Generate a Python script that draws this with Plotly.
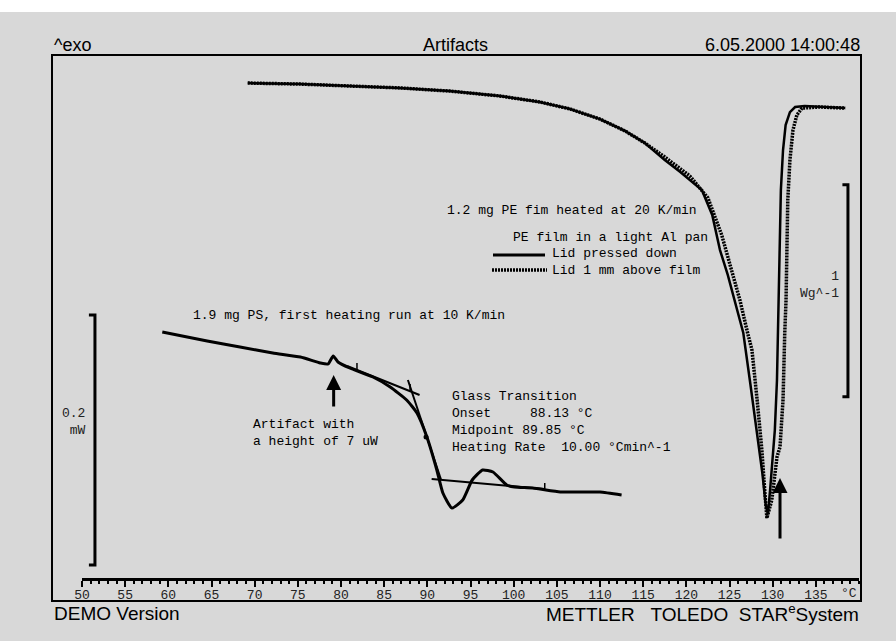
import plotly.graph_objects as go

# ---------------- data ----------------
# PE film, lid pressed down (solid) : temperature (°C), heat flow (W/g, arbitrary offset)
pe_T_solid = [69.2, 75.3, 81.0, 86.8, 92.6, 98.4, 103.0, 106.5, 110.0, 112.9,
              115.2, 117.5, 119.3, 121.8, 123.0, 123.9, 124.8, 125.6, 126.6, 127.4,
              128.2, 128.8, 129.2, 129.45, 129.7, 130.0, 130.25, 130.5, 130.6, 130.7,
              130.85, 130.95, 131.2, 131.5, 132.0, 132.6, 133.7, 135.5, 138.4]
pe_hf_solid = [0.080, 0.075, 0.066, 0.057, 0.042, 0.019, -0.009, -0.042, -0.090, -0.146,
               -0.203, -0.283, -0.340, -0.425, -0.542, -0.708, -0.825, -0.943, -1.099, -1.335,
               -1.571, -1.759, -1.910, -1.953, -1.840, -1.698, -1.557, -1.321, -1.085, -0.896,
               -0.660, -0.425, -0.236, -0.118, -0.057, -0.033, -0.028, -0.033, -0.038]

# PE film, lid 1 mm above film (dotted)
pe_T_dot = [69.2, 75.3, 81.0, 86.8, 92.6, 98.4, 103.0, 106.5, 110.0, 112.9, 115.2,
            117.5, 120.4, 122.5, 124.1, 125.4, 126.2, 127.1, 127.6, 128.2, 128.75,
            129.1, 129.33, 129.9, 130.5, 130.85, 131.2, 131.4, 131.55, 131.65, 131.75,
            132.0, 132.35, 132.8, 133.4, 135.5, 138.4]
pe_hf_dot = [0.080, 0.075, 0.066, 0.057, 0.042, 0.019, -0.009, -0.042, -0.090, -0.146, -0.203,
             -0.269, -0.358, -0.462, -0.637, -0.825, -0.943, -1.099, -1.179, -1.415, -1.651,
             -1.854, -1.972, -1.887, -1.684, -1.637, -1.415, -1.099, -0.943, -0.708, -0.472,
             -0.283, -0.142, -0.071, -0.038, -0.033, -0.038]

# PS, first heating run (mW, arbitrary offset)
ps_T = [59.3, 64.5, 68.3, 72.1, 75.3, 77.6, 78.5, 79.1, 79.65, 81.0,
        83.7, 85.7, 87.6, 88.8, 89.95, 91.1, 91.8, 92.85, 94.1, 95.2,
        96.4, 97.6, 99.2, 100.1, 102.2, 105.4, 107.7, 110.0, 112.5]
ps_mW = [-0.0016, -0.0088, -0.0136, -0.0184, -0.0216, -0.0264, -0.0272, -0.0208, -0.0256, -0.0304,
         -0.0376, -0.0456, -0.0560, -0.0664, -0.0856, -0.1120, -0.1304, -0.1424, -0.1360, -0.1200,
         -0.1120, -0.1136, -0.1240, -0.1256, -0.1264, -0.1296, -0.1296, -0.1296, -0.1320]

# glass transition evaluation lines (mW)
tan_upper_T = [80.7, 89.1]
tan_upper = [-0.0288, -0.0520]
tan_steep_T = [87.75, 91.6]
tan_steep = [-0.0400, -0.1200]
tan_lower_T = [90.5, 103.6]
tan_lower = [-0.1192, -0.1272]
mark_T = [81.85, 88.0, 103.6]
mark_lo = [-0.0320, -0.0496, -0.1272]
mark_hi = [-0.0264, -0.0432, -0.1224]
midpoint_T = [89.85]
midpoint_mW = [-0.0856]

# scale bars
pe_bar_len = 1.0   # W/g
ps_bar_len = 0.2   # mW

tick_vals = list(range(50, 140, 5))
tick_text = [str(v) for v in tick_vals]

# ---------------- layout geometry ----------------
W, H = 896, 641
L, R, T, B = 82, 37, 55, 63
PW, PH = W - L - R, H - T - B


def P(x, y):
    return (x - L) / PW, (H - B - y) / PH


BG = '#d8d8d8'
MONO = 'Liberation Mono'
SANS = 'Liberation Sans'

fig = go.Figure()

fig.add_trace(go.Scatter(x=pe_T_dot, y=pe_hf_dot, mode='lines', yaxis='y',
                         line=dict(color='black', width=3.5, dash='2px,1px'),
                         showlegend=False, hoverinfo='skip'))
fig.add_trace(go.Scatter(x=pe_T_solid, y=pe_hf_solid, mode='lines', yaxis='y',
                         line=dict(color='black', width=2.5),
                         showlegend=False, hoverinfo='skip'))

fig.add_trace(go.Scatter(x=ps_T, y=ps_mW, mode='lines', yaxis='y2',
                         line=dict(color='black', width=3, shape='spline', smoothing=0.5),
                         showlegend=False, hoverinfo='skip'))
for tx, ty in [(tan_upper_T, tan_upper), (tan_steep_T, tan_steep), (tan_lower_T, tan_lower)]:
    fig.add_trace(go.Scatter(x=tx, y=ty, mode='lines', yaxis='y2',
                             line=dict(color='black', width=2),
                             showlegend=False, hoverinfo='skip'))
mx, my = [], []
for t, lo, hi in zip(mark_T, mark_lo, mark_hi):
    mx += [t, t, None]
    my += [lo, hi, None]
fig.add_trace(go.Scatter(x=mx, y=my, mode='lines', yaxis='y2',
                         line=dict(color='black', width=1.5),
                         showlegend=False, hoverinfo='skip'))
fig.add_trace(go.Scatter(x=midpoint_T, y=midpoint_mW, mode='markers', yaxis='y2',
                         marker=dict(color='black', size=5),
                         showlegend=False, hoverinfo='skip'))

# y ranges: 212 px per W/g, 1250 px per mW
y_top = (100 - T) / 212.0
y_rng = [y_top - PH / 212.0, y_top]
y2_top = (330 - T) / 1250.0
y2_rng = [y2_top - PH / 1250.0, y2_top]

shapes = []
# top white band
shapes.append(dict(type='rect', xref='paper', yref='paper', x0=-0.3, x1=1.3,
                   y0=P(0, 12)[1], y1=1.3, fillcolor='white', line=dict(width=0), layer='below'))
# frame
fx0, fy1 = P(52, 55)
fx1, fy0 = P(861, 601)
shapes.append(dict(type='rect', xref='paper', yref='paper', x0=fx0, x1=fx1, y0=fy0, y1=fy1,
                   line=dict(color='black', width=2)))
# PE scale bar (W/g)
bx, btx = 138.72, 138.08
b_top = -0.4
shapes.append(dict(type='path', xref='x', yref='y',
                   path=f'M{btx},{b_top} L{bx},{b_top} L{bx},{b_top - pe_bar_len} L{btx},{b_top - pe_bar_len}',
                   line=dict(color='black', width=3)))
# PS scale bar (mW)
sx, stx = 51.5, 50.8
s_top = 0.012
shapes.append(dict(type='path', xref='x', yref='y2',
                   path=f'M{stx},{s_top} L{sx},{s_top} L{sx},{s_top - ps_bar_len} L{stx},{s_top - ps_bar_len}',
                   line=dict(color='black', width=3)))
# legend samples
lx0, ly = P(493, 255)
lx1, _ = P(545, 255)
shapes.append(dict(type='line', xref='paper', yref='paper', x0=lx0, x1=lx1, y0=ly, y1=ly,
                   line=dict(color='black', width=3)))
dx0, dy = P(492, 270)
dx1, _ = P(547, 270)
shapes.append(dict(type='line', xref='paper', yref='paper', x0=dx0, x1=dx1, y0=dy, y1=dy,
                   line=dict(color='black', width=3.5, dash='2px,1px')))

ann = []


def txt(text, x, y, xanchor='left', font=MONO, size=13, align='left', color='black'):
    px, py = P(x, y)
    ann.append(dict(text=text, x=px, y=py, xref='paper', yref='paper', showarrow=False,
                    xanchor=xanchor, yanchor='middle', align=align,
                    font=dict(family=font, size=size, color=color)))


nb = '\u00a0'
txt('^exo', 52, 45, font=SANS, size=18)
txt('Artifacts', 455, 45, xanchor='center', font=SANS, size=18)
txt('6.05.2000 14:00:48', 862, 45, xanchor='right', font=SANS, size=18)
txt('DEMO Version', 52, 613, font=SANS, size=19)
txt(f'METTLER{nb}{nb}{nb}TOLEDO{nb}{nb}STAR<sup>e</sup>System', 861, 613, xanchor='right', font=SANS, size=19)

txt('1.9 mg PS, first heating run at 10 K/min'.replace(' ', nb), 191, 315)
txt('Artifact with<br>a height of 7 uW'.replace(' ', nb), 251, 433)
gt = ['Glass Transition', 'Onset     88.13 °C', 'Midpoint 89.85 °C', 'Heating Rate  10.00 °Cmin^-1']
txt('<br>'.join(s.replace(' ', nb) for s in gt), 450, 422)
txt('1.2 mg PE fim heated at 20 K/min'.replace(' ', nb), 445, 210)
txt('PE film in a light Al pan'.replace(' ', nb), 511, 237)
txt('Lid pressed down<br>Lid 1 mm above film'.replace(' ', nb), 550, 262)
txt('1<br>Wg^-1', 841, 285, xanchor='right', align='right', color='#222')
txt('0.2<br>mW', 88, 422, xanchor='right', align='right', color='#222')
txt('°C', 859, 593, xanchor='right', color='#222')

# arrows
ann.append(dict(x=79.15, y=-0.036, xref='x', yref='y2', ax=79.15, ay=-0.0624, axref='x', ayref='y2',
                showarrow=True, arrowhead=2, arrowsize=1, arrowwidth=3, arrowcolor='black', text=''))
ann.append(dict(x=130.85, y=-1.783, xref='x', yref='y', ax=130.85, ay=-2.075, axref='x', ayref='y',
                showarrow=True, arrowhead=2, arrowsize=1, arrowwidth=3, arrowcolor='black', text=''))

fig.update_layout(
    width=W, height=H,
    margin=dict(l=L, r=R, t=T, b=B, pad=0),
    paper_bgcolor=BG, plot_bgcolor='rgba(0,0,0,0)',
    showlegend=False,
    shapes=shapes, annotations=ann,
    xaxis=dict(range=[50, 140], showgrid=False, zeroline=False,
               showline=True, linewidth=3, linecolor='black',
               tickmode='array', tickvals=tick_vals, ticktext=tick_text,
               ticks='outside', ticklen=6, tickwidth=2, tickcolor='black',
               ticklabelstandoff=-4,
               tickfont=dict(family=MONO, size=13, color='#222'),
               minor=dict(tick0=50, dtick=1, ticks='outside', ticklen=3, tickwidth=1.5, tickcolor='black'),
               fixedrange=True),
    yaxis=dict(range=y_rng, visible=False, fixedrange=True),
    yaxis2=dict(range=y2_rng, visible=False, overlaying='y', fixedrange=True),
)

fig.write_html('out.html', config={'displayModeBar': False},
               post_script="document.body.style.margin='0';document.body.style.overflow='hidden';")
